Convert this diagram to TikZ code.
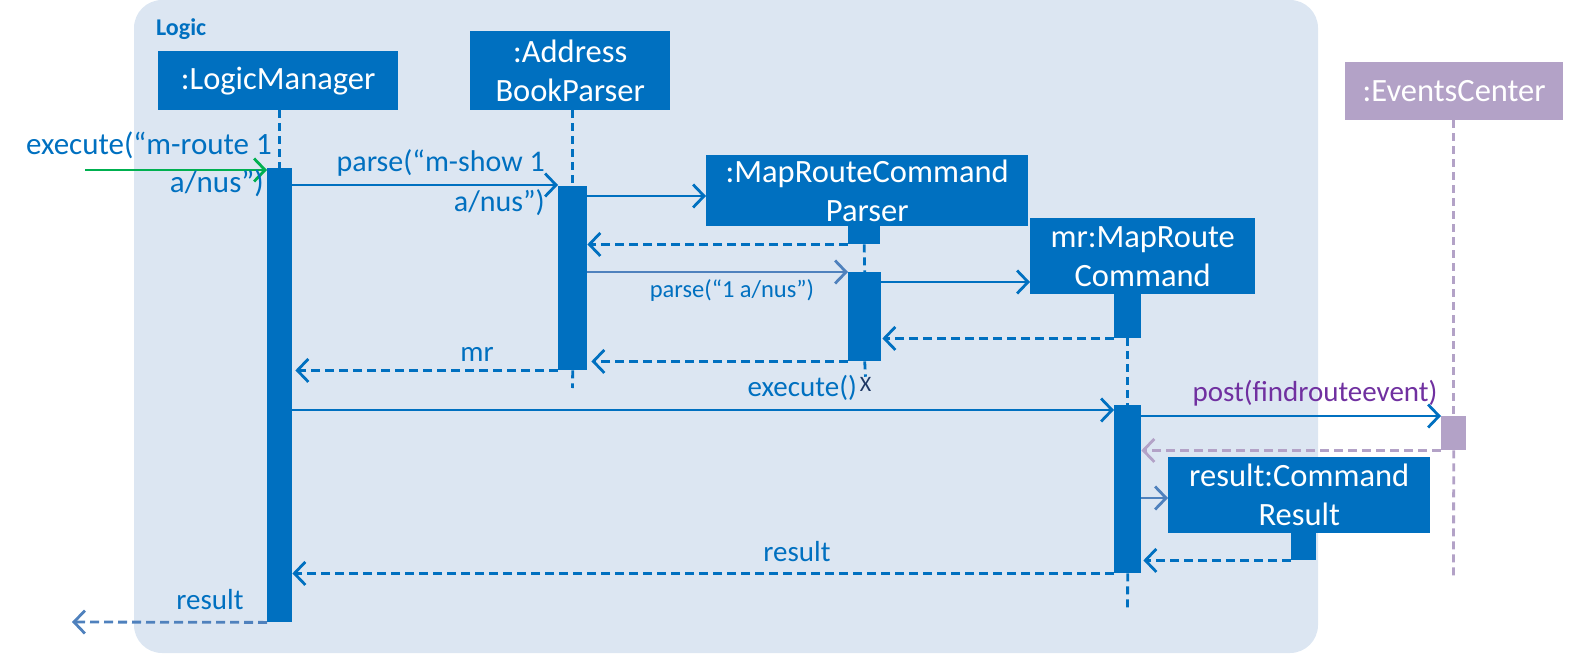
\documentclass[tikz,border=0pt]{standalone}
\usepackage{fontspec}
\setmainfont{Carlito}
\usetikzlibrary{arrows.meta}
\definecolor{ublue}{HTML}{0070C0}
\definecolor{steel}{HTML}{4F81BD}
\definecolor{bgblue}{HTML}{DCE6F2}
\definecolor{evpurple}{HTML}{B3A2C7}
\definecolor{postpurple}{HTML}{7030A0}
\definecolor{xnavy}{HTML}{1F3864}
\definecolor{sendgreen}{HTML}{00B050}

\begin{document}
\begin{tikzpicture}[x=1pt,y=-1pt,
  objbox/.style={fill=ublue, text=white, inner sep=0pt, anchor=north west,
    align=center, font=\fontsize{32.5}{39}\selectfont},
  actbar/.style={fill=ublue, inner sep=0pt, anchor=north west},
  lifeline/.style={ublue, line width=2.8pt, dash pattern=on 8pt off 5pt},
  msg/.style={ublue, line width=2.8pt, -{Straight Barb[length=11pt,width=23pt]}},
  reply/.style={msg, dash pattern=on 9pt off 5pt},
  lbl/.style={text=ublue, inner sep=0pt, font=\fontsize{29}{37}\selectfont},
]
\useasboundingbox (0,0) rectangle (1575,656);

% Logic component frame
\fill[bgblue, rounded corners=28pt] (134,0) rectangle (1318,653);
\node[text=ublue, inner sep=0pt, anchor=west, font=\bfseries\fontsize{24}{24}\selectfont] (logic) at (156,29) {Logic};

% participants
\node[objbox, minimum width=240pt, minimum height=59pt] (lm) at (158,51) {:LogicManager};
\node[objbox, minimum width=200pt, minimum height=79pt] (abp) at (470,31) {:Address\\BookParser};
\node[objbox, minimum width=322pt, minimum height=71pt] (mrcp) at (706,155) {:MapRouteCommand\\Parser};
\node[objbox, minimum width=225pt, minimum height=76pt] (mrc) at (1030,218) {mr:MapRoute\\Command};
\node[objbox, fill=evpurple, minimum width=218pt, minimum height=58pt] (ec) at (1345,62) {:EventsCenter};
\node[objbox, minimum width=262pt, minimum height=76pt] (res) at (1168,457) {result:Command\\Result};

% activation bars
\node[actbar, minimum width=25pt, minimum height=454pt] (lmA) at (267,168) {};
\node[actbar, minimum width=29pt, minimum height=184pt] (abpA) at (558,186) {};
\node[actbar, minimum width=32pt, minimum height=18pt] (mrcpC) at (848,226) {};
\node[actbar, minimum width=33pt, minimum height=89pt] (mrcpA) at (848,272) {};
\node[actbar, minimum width=27pt, minimum height=44pt] (mrcC) at (1114,294) {};
\node[actbar, minimum width=27pt, minimum height=168pt] (mrcA) at (1114,405) {};
\node[actbar, fill=evpurple, minimum width=25pt, minimum height=34pt] (ecA) at (1441,416) {};
\node[actbar, minimum width=25pt, minimum height=27pt] (resC) at (1291,533) {};

% destruction mark
\node[text=xnavy, inner sep=0pt, font=\fontsize{22}{22}\selectfont] (kill) at (865.5,384) {X};

% lifeline ends
\coordinate (abpEnd) at (572.5,388);
\coordinate (mrcEnd) at (1127.5,610);
\coordinate (ecEnd) at (1453.5,580);

% lifelines
\draw[lifeline] (lmA.north |- lm.south) -- (lmA.north);
\draw[lifeline] (abpA.north |- abp.south) -- (abpA.north);
\draw[lifeline] (abpA.south) -- (abpEnd);
\draw[lifeline] (mrcpC.south) -- (mrcpA.north);
\draw[lifeline] (mrcpA.south) -- (kill.north);
\draw[lifeline] (mrcC.south) -- (mrcA.north);
\draw[lifeline] (mrcA.south) -- (mrcEnd);
\draw[lifeline, evpurple] (ecA.north |- ec.south) -- (ecA.north);
\draw[lifeline, evpurple] (ecA.south) -- (ecEnd);

% messages
\coordinate (src) at (85,170);
\coordinate (out) at (72,622);
\draw[msg, sendgreen] (src) -- (lmA.west |- src);
\draw[msg] (lmA.east |- 0,185) -- (abpA.west |- 0,185);
\draw[msg] (abpA.east |- 0,196) -- (mrcp.west |- 0,196);
\draw[reply] (mrcpC.south west) -- (abpA.east |- mrcpC.south west);
\draw[msg, steel] (abpA.east |- mrcpA.north) -- (mrcpA.north west);
\draw[msg] (mrcpA.east |- 0,282) -- (mrc.west |- 0,282);
\draw[reply, shorten >=1pt] (mrcC.south west) -- (mrcpA.east |- mrcC.south west);
\draw[reply, shorten >=4pt] (mrcpA.south west) -- (abpA.east |- mrcpA.south west);
\draw[reply, shorten >=3pt] (abpA.south west) -- (lmA.east |- abpA.south west);
\draw[msg] (lmA.east |- 0,410) -- (mrcA.west |- 0,410);
\draw[msg] (mrcA.east |- ecA.north) -- (ecA.north west);
\draw[reply, evpurple] (ecA.south west) -- (mrcA.east |- ecA.south west);
\draw[msg, steel] (mrcA.east |- 0,498) -- (res.west |- 0,498);
\draw[reply, shorten >=2pt] (resC.south west) -- (mrcA.east |- resC.south west);
\draw[reply] (mrcA.south west) -- (lmA.east |- mrcA.south west);
\draw[reply, steel] (lmA.south west) -- (out);

% message labels
\node[lbl, anchor=east, align=right, font=\fontsize{31}{38}\selectfont] (l1) at (272,164) {execute(“m-route 1\\a/nus”)\hspace*{8pt}};
\node[lbl, anchor=east, align=right, font=\fontsize{30}{40}\selectfont] (l2) at (545,183) {parse(“m-show 1\\a/nus”)};
\node[lbl, font=\fontsize{24.5}{24.5}\selectfont] (l3) at (732,291) {parse(“1 a/nus”)};
\node[lbl] (l4) at (477,354) {mr};
\node[lbl, anchor=east] (l5) at (857,388) {execute()};
\node[lbl, text=postpurple] (l6) at (1315,393) {post(findrouteevent)};
\node[lbl] (l7) at (797,552) {result};
\node[lbl] (l8) at (210,600) {result};
\end{tikzpicture}
\end{document}
